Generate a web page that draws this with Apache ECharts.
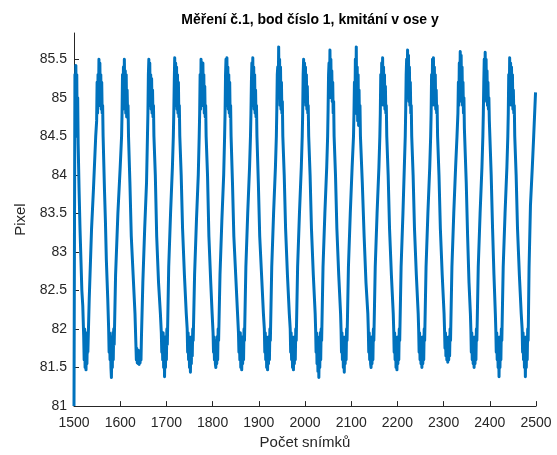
<!DOCTYPE html>
<html>
<head>
<meta charset="utf-8">
<script src="https://cdn.jsdelivr.net/npm/echarts@6/dist/echarts.min.js"></script>
<style>html,body{margin:0;padding:0;background:#fff;}#c{width:557px;height:455px;}</style>
</head>
<body>
<div id="c"></div>
<script>
const chartTitle = 'Měření č.1, bod číslo 1, kmitání v ose y';
const xName = 'Počet snímků';
const yName = 'Pixel';
const yTicks = [81, 81.5, 82, 82.5, 83, 83.5, 84, 84.5, 85, 85.5];
const xTicks = [1500, 1600, 1700, 1800, 1900, 2000, 2100, 2200, 2300, 2400, 2500];
// [frame, pixel] samples
const measurement = [
[1500,81.0],[1501,83.2],[1502,85.3],[1503,84.6],[1504,85.42],[1505,84.8],[1506,85.3],[1507,84.5],[1508,85.0],[1509,84.4],[1511,83.8],[1513,83.3],[1515,82.9],[1517,82.5],[1519,82.3],
[1521,81.9],[1522,81.6],[1523,82.0],[1524,81.5],[1525,81.8],[1526,81.47],[1527,81.9],[1528,81.55],[1529,81.95],[1530,81.7],
[1533,82.4],[1538,83.3],[1542,83.8],[1547,84.5],
[1549,84.7],[1550,85.2],[1551,84.8],[1552,85.3],[1553,84.9],[1554,85.5],[1555,85.0],[1556,85.45],[1557,84.9],[1558,85.3],[1559,84.85],[1560,85.2],[1561,84.8],[1562,84.9],[1563,84.5],
[1566,83.8],[1568,83.4],[1570,82.9],[1573,82.4],
[1575,82.0],[1576,81.7],[1577,81.95],[1578,81.6],[1579,81.85],[1580,81.5],[1581,81.37],[1582,81.9],[1583,81.5],[1584,81.95],[1585,81.6],[1586,82.0],[1587,81.8],
[1590,82.7],[1595,83.5],[1600,84.1],[1603,84.5],
[1604,84.8],[1605,85.3],[1606,84.85],[1607,85.4],[1608,84.9],[1609,85.5],[1610,84.95],[1611,85.35],[1612,84.8],[1613,85.3],[1614,84.75],[1615,85.1],[1616,84.8],[1617,84.9],[1618,84.5],
[1621,83.9],[1624,83.2],[1628,82.7],[1632,82.2],
[1634,81.8],[1635,81.6],[1636,81.75],[1637,81.56],[1638,81.7],[1639,81.55],[1640,81.72],[1641,81.54],[1642,81.7],[1643,81.56],[1644,81.68],[1645,81.6],[1646,81.9],
[1649,82.6],[1653,83.3],[1657,83.9],[1659,84.5],
[1660,84.8],[1661,85.3],[1662,85.5],[1663,85.0],[1664,85.45],[1665,84.9],[1666,85.3],[1667,84.85],[1668,85.25],[1669,84.8],[1670,85.1],[1671,84.75],[1672,84.9],[1673,84.5],
[1676,84.0],[1679,83.2],[1683,82.6],[1687,82.2],
[1689,81.95],[1690,81.7],[1691,81.9],[1692,81.6],[1693,81.95],[1694,81.5],[1695,81.8],[1696,81.38],[1697,81.85],[1698,81.5],[1699,81.9],[1700,81.6],[1701,82.0],[1702,81.8],
[1705,82.8],[1709,83.5],[1713,84.1],[1715,84.5],
[1716,84.8],[1717,85.2],[1718,85.52],[1719,85.0],[1720,85.45],[1721,84.9],[1722,85.4],[1723,84.85],[1724,85.3],[1725,84.8],[1726,85.2],[1727,84.75],[1728,84.9],[1729,84.5],
[1732,84.0],[1735,83.3],[1739,82.7],[1743,82.2],
[1745,82.0],[1746,81.7],[1747,81.95],[1748,81.6],[1749,81.9],[1750,81.5],[1751,81.8],[1752,81.44],[1753,81.85],[1754,81.55],[1755,81.9],[1756,81.65],[1757,82.0],[1758,81.85],
[1761,82.7],[1765,83.4],[1769,84.0],[1771,84.5],
[1772,84.8],[1773,85.3],[1774,84.85],[1775,85.5],[1776,85.0],[1777,85.4],[1778,84.9],[1779,85.45],[1780,84.95],[1781,85.3],[1782,84.8],[1783,85.15],[1784,84.75],[1785,84.9],[1786,84.5],
[1789,84.0],[1792,83.2],[1796,82.6],[1799,82.2],
[1801,81.95],[1802,81.7],[1803,81.9],[1804,81.6],[1805,81.85],[1806,81.55],[1807,81.5],[1808,81.85],[1809,81.55],[1810,81.9],[1811,81.6],[1812,82.0],[1813,81.85],
[1816,82.7],[1820,83.4],[1824,84.0],[1826,84.5],
[1827,84.8],[1828,85.3],[1829,85.5],[1830,85.0],[1831,85.52],[1832,84.9],[1833,85.4],[1834,84.85],[1835,85.3],[1836,84.8],[1837,85.2],[1838,84.75],[1839,84.9],[1840,84.5],
[1843,83.9],[1846,83.2],[1850,82.7],[1854,82.2],
[1856,81.95],[1857,81.7],[1858,81.9],[1859,81.6],[1860,81.95],[1861,81.5],[1862,81.85],[1863,81.47],[1864,81.8],[1865,81.55],[1866,81.9],[1867,81.6],[1868,82.0],[1869,81.85],
[1872,82.8],[1876,83.5],[1880,84.1],[1882,84.5],
[1883,84.8],[1884,85.2],[1885,85.45],[1886,84.95],[1887,85.52],[1888,84.9],[1889,85.4],[1890,84.85],[1891,85.3],[1892,84.8],[1893,85.1],[1894,84.75],[1895,84.9],[1896,84.5],
[1899,83.9],[1902,83.2],[1906,82.7],[1910,82.2],
[1912,82.0],[1913,81.7],[1914,81.95],[1915,81.6],[1916,81.9],[1917,81.5],[1918,81.8],[1919,81.47],[1920,81.85],[1921,81.55],[1922,81.9],[1923,81.6],[1924,82.0],[1925,81.85],
[1928,82.8],[1932,83.5],[1936,84.1],[1938,84.5],
[1939,84.85],[1940,85.3],[1941,85.4],[1942,85.0],[1943,85.66],[1944,85.0],[1945,85.5],[1946,84.9],[1947,85.4],[1948,84.85],[1949,85.2],[1950,84.8],[1951,84.95],[1952,84.5],
[1955,84.0],[1958,83.3],[1962,82.7],[1966,82.2],
[1968,82.0],[1969,81.7],[1970,81.95],[1971,81.6],[1972,81.9],[1973,81.5],[1974,81.8],[1975,81.47],[1976,81.85],[1977,81.55],[1978,81.9],[1979,81.6],[1980,82.0],[1981,81.85],
[1984,82.8],[1988,83.5],[1992,84.1],[1994,84.5],
[1995,84.8],[1996,85.3],[1997,85.5],[1998,85.0],[1999,85.45],[2000,84.95],[2001,85.4],[2002,84.9],[2003,85.3],[2004,84.85],[2005,85.15],[2006,84.8],[2007,84.9],[2008,84.5],
[2011,84.0],[2014,83.3],[2018,82.7],[2022,82.2],
[2023,82.0],[2024,81.7],[2025,81.95],[2026,81.55],[2027,81.9],[2028,81.45],[2029,81.8],[2030,81.37],[2031,81.85],[2032,81.5],[2033,81.95],[2034,81.6],[2035,82.0],[2036,81.85],
[2039,82.8],[2043,83.5],[2047,84.1],[2049,84.5],
[2050,84.85],[2051,85.3],[2052,85.45],[2053,85.0],[2054,85.62],[2055,85.05],[2056,85.5],[2057,85.0],[2058,85.35],[2059,84.95],[2060,85.2],[2061,84.8],[2062,84.95],[2063,84.5],
[2066,84.0],[2069,83.3],[2073,82.7],[2077,82.2],
[2078,82.0],[2079,81.7],[2080,81.95],[2081,81.6],[2082,81.9],[2083,81.5],[2084,81.8],[2085,81.44],[2086,81.85],[2087,81.55],[2088,81.9],[2089,81.6],[2090,82.0],[2091,81.85],
[2094,82.8],[2098,83.5],[2102,84.1],[2105,84.5],
[2106,84.8],[2107,85.2],[2108,84.8],[2109,85.5],[2110,84.9],[2111,85.66],[2112,84.8],[2113,85.4],[2114,84.7],[2115,85.3],[2116,84.64],[2117,85.1],[2118,84.65],[2119,84.9],[2120,84.5],
[2124,83.9],[2128,83.2],[2132,82.6],[2136,82.2],
[2137,82.0],[2138,81.7],[2139,81.95],[2140,81.6],[2141,81.9],[2142,81.55],[2143,81.5],[2144,81.85],[2145,81.55],[2146,81.9],[2147,81.6],[2148,82.0],[2149,81.85],
[2152,82.8],[2156,83.5],[2160,84.1],[2162,84.5],
[2163,84.8],[2164,85.3],[2165,84.9],[2166,85.45],[2167,85.0],[2168,85.52],[2169,84.95],[2170,85.4],[2171,84.9],[2172,85.3],[2173,84.85],[2174,85.15],[2175,84.8],[2176,84.9],[2177,84.5],
[2180,84.0],[2183,83.3],[2187,82.7],[2191,82.2],
[2192,82.0],[2193,81.7],[2194,81.95],[2195,81.6],[2196,81.9],[2197,81.5],[2198,81.8],[2199,81.47],[2200,81.85],[2201,81.55],[2202,81.9],[2203,81.6],[2204,82.0],[2205,81.85],
[2208,82.8],[2212,83.5],[2215,84.1],[2217,84.5],
[2218,84.85],[2219,85.3],[2220,85.5],[2221,85.0],[2222,85.62],[2223,85.05],[2224,85.55],[2225,84.95],[2226,85.4],[2227,84.9],[2228,85.2],[2229,84.8],[2230,84.9],[2231,84.5],
[2234,84.0],[2237,83.3],[2241,82.7],[2245,82.2],
[2246,82.0],[2247,81.7],[2248,81.95],[2249,81.6],[2250,81.9],[2251,81.55],[2252,81.8],[2253,81.5],[2254,81.85],[2255,81.55],[2256,81.9],[2257,81.6],[2258,82.0],[2259,81.85],
[2262,82.8],[2266,83.5],[2270,84.1],[2272,84.5],
[2273,84.8],[2274,85.3],[2275,84.9],[2276,85.5],[2277,85.0],[2278,85.52],[2279,84.95],[2280,85.4],[2281,84.9],[2282,85.3],[2283,84.85],[2284,85.1],[2285,84.8],[2286,84.9],[2287,84.5],
[2290,84.0],[2293,83.3],[2297,82.7],[2301,82.2],
[2302,82.0],[2303,81.75],[2304,81.95],[2305,81.65],[2306,81.9],[2307,81.6],[2308,81.85],[2309,81.57],[2310,81.85],[2311,81.6],[2312,81.9],[2313,81.65],[2314,82.0],[2315,81.85],
[2318,82.8],[2322,83.5],[2326,84.1],[2329,84.5],
[2331,84.8],[2332,85.2],[2333,84.9],[2334,85.45],[2335,85.0],[2336,85.6],[2337,85.0],[2338,85.55],[2339,84.95],[2340,85.4],[2341,84.9],[2342,85.2],[2343,84.8],[2344,85.0],[2345,84.6],
[2349,83.9],[2352,83.2],[2355,82.6],[2358,82.2],
[2359,82.0],[2360,81.7],[2361,81.95],[2362,81.6],[2363,81.9],[2364,81.55],[2365,81.8],[2366,81.5],[2367,81.85],[2368,81.55],[2369,81.9],[2370,81.6],[2371,82.0],[2372,81.85],
[2375,82.8],[2379,83.5],[2383,84.1],[2385,84.5],
[2386,84.8],[2387,85.2],[2388,85.5],[2389,85.0],[2390,85.59],[2391,85.05],[2392,85.5],[2393,84.95],[2394,85.35],[2395,84.9],[2396,85.2],[2397,84.85],[2398,85.0],[2399,84.7],
[2403,84.0],[2406,83.3],[2409,82.7],[2412,82.2],
[2413,82.0],[2414,81.7],[2415,81.95],[2416,81.6],[2417,81.9],[2418,81.5],[2419,81.8],[2420,81.38],[2421,81.85],[2422,81.5],[2423,81.9],[2424,81.6],[2425,82.0],[2426,81.85],
[2429,82.8],[2433,83.5],[2437,84.1],[2439,84.5],
[2440,84.8],[2441,85.3],[2442,84.9],[2443,85.52],[2444,85.0],[2445,85.45],[2446,84.95],[2447,85.4],[2448,84.9],[2449,85.3],[2450,84.85],[2451,85.1],[2452,84.8],[2453,84.9],[2454,84.5],
[2457,84.0],[2460,83.3],[2464,82.7],[2468,82.2],
[2470,82.0],[2471,81.7],[2472,81.95],[2473,81.6],[2474,81.9],[2475,81.5],[2476,81.8],[2477,81.38],[2478,81.85],[2479,81.5],[2480,81.9],[2481,81.6],[2482,82.0],[2483,81.85],
[2485,82.8],[2488,83.6],[2492,84.1],[2495,84.5],[2499,85.07]
];

const chart = echarts.init(document.getElementById('c'), null, {renderer: 'canvas'});
const axisColor = '#262626';
const fontFamily = '"Liberation Sans", Arial, sans-serif';
chart.setOption({
  animation: false,
  backgroundColor: '#ffffff',
  title: {
    text: chartTitle,
    left: 305, top: 8, textAlign: 'center',
    textStyle: {fontFamily: fontFamily, fontSize: 14, fontWeight: 'bold', color: '#000'}
  },
  grid: {left: 74, right: 21, top: 33, bottom: 48, containLabel: false},
  xAxis: {
    type: 'value', min: 1500, max: 2500, interval: 100,
    name: xName, nameLocation: 'middle', nameGap: 26,
    nameTextStyle: {fontFamily: fontFamily, fontSize: 15, color: axisColor},
    axisLine: {show: true, lineStyle: {color: axisColor, width: 1}},
    axisTick: {show: true, inside: true, length: 5, lineStyle: {color: axisColor}, customValues: xTicks},
    axisLabel: {fontFamily: fontFamily, fontSize: 14, color: axisColor, margin: 10, customValues: xTicks,
      formatter: function (v) { return String(v); }},
    splitLine: {show: false}
  },
  yAxis: {
    type: 'value', min: 81, max: 85.84,
    name: yName, nameLocation: 'middle', nameGap: 41, nameRotate: 90,
    nameTextStyle: {fontFamily: fontFamily, fontSize: 15, color: axisColor},
    axisLine: {show: true, lineStyle: {color: axisColor, width: 1}},
    axisTick: {show: true, inside: true, length: 5, lineStyle: {color: axisColor}, customValues: yTicks},
    axisLabel: {fontFamily: fontFamily, fontSize: 14, color: axisColor, margin: 7, customValues: yTicks},
    splitLine: {show: false}
  },
  series: [{
    type: 'line',
    data: measurement,
    showSymbol: false,
    symbol: 'none',
    sampling: null,
    clip: true,
    lineStyle: {color: '#0072BD', width: 3, join: 'round'}
  }]
});
</script>
</body>
</html>
